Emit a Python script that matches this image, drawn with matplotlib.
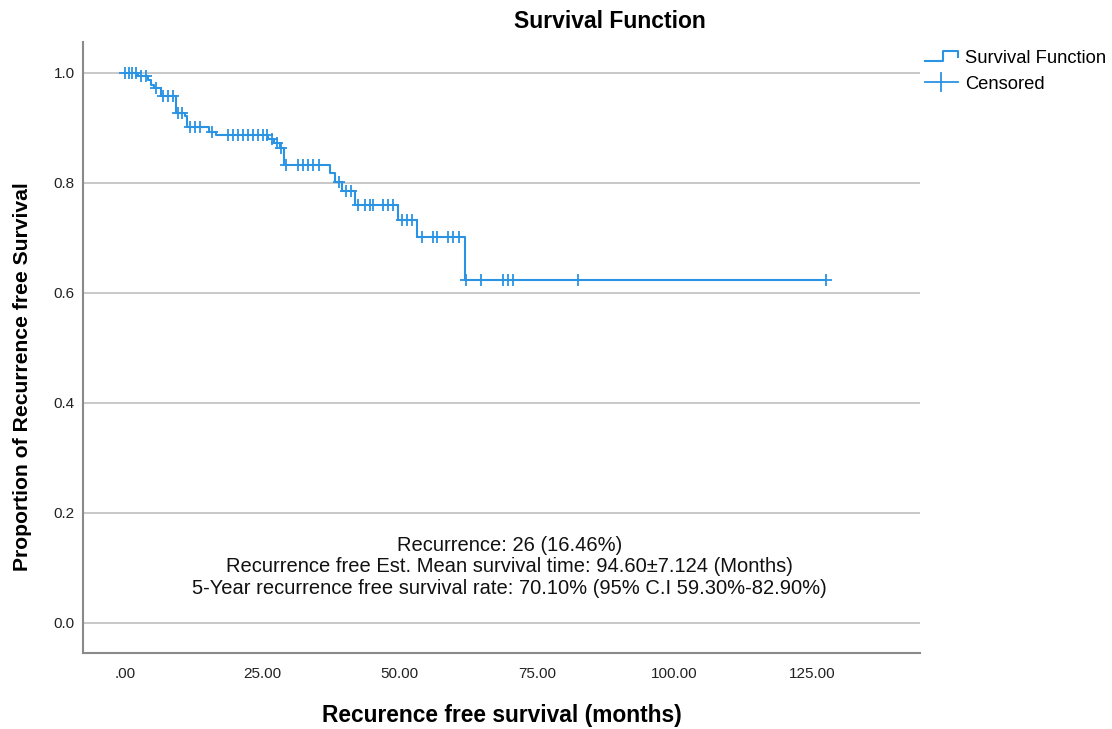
import matplotlib
matplotlib.use("Agg")
import matplotlib.pyplot as plt
from matplotlib.lines import Line2D
from matplotlib.legend_handler import HandlerBase

plt.rcParams['font.family'] = ['Liberation Sans', 'DejaVu Sans']

# Kaplan-Meier steps (months, survival after the drop)
event_times = [2.5, 4.2, 4.7, 5.3, 6.6, 9.3, 10.9, 11.3, 15.4, 16.6,
               26.0, 27.2, 28.2, 29.0, 37.3, 38.2, 39.5, 41.9, 49.7, 53.1, 61.9]
event_surv = [0.994, 0.987, 0.978, 0.972, 0.957, 0.927, 0.921, 0.902, 0.893, 0.886,
              0.880, 0.873, 0.864, 0.833, 0.818, 0.802, 0.785, 0.760, 0.733, 0.702, 0.624]

# censored cases
cens_times = [0.0, 0.7, 1.4, 2.1, 2.9, 3.9, 5.7, 6.9, 7.8, 8.7, 9.6, 10.4,
              11.8, 12.7, 13.6, 15.8,
              18.7, 19.7, 20.6, 21.5, 22.4, 23.3, 24.2, 25.1, 25.8,
              26.7, 27.7, 28.4,
              29.4, 31.5, 32.4, 33.3, 34.2, 35.3,
              38.9, 40.2, 41.1,
              42.4, 43.7, 44.6, 45.1, 46.9, 47.9, 48.8,
              50.4, 51.3, 52.2,
              54.0, 56.0, 56.8, 58.8, 59.7, 60.8,
              62.0, 64.8, 68.8, 69.7, 70.6, 82.4, 127.5]
cens_surv = [1.0, 1.0, 1.0, 1.0, 0.994, 0.994, 0.972, 0.957, 0.957, 0.957, 0.927, 0.927,
             0.902, 0.902, 0.902, 0.893,
             0.886, 0.886, 0.886, 0.886, 0.886, 0.886, 0.886, 0.886, 0.886,
             0.880, 0.873, 0.864,
             0.833, 0.833, 0.833, 0.833, 0.833, 0.833,
             0.802, 0.785, 0.785,
             0.760, 0.760, 0.760, 0.760, 0.760, 0.760, 0.760,
             0.733, 0.733, 0.733,
             0.702, 0.702, 0.702, 0.702, 0.702, 0.702,
             0.624, 0.624, 0.624, 0.624, 0.624, 0.624, 0.624]

notes = ["Recurrence: 26 (16.46%)",
         "Recurrence free Est. Mean survival time: 94.60\u00b17.124 (Months)",
         "5-Year recurrence free survival rate: 70.10% (95% C.I 59.30%-82.90%)"]

blue = '#2b93e3'


class StepHandler(HandlerBase):
    # legend handle drawn as a little step
    def create_artists(self, legend, orig_handle, xdescent, ydescent,
                       width, height, fontsize, trans):
        x0 = -xdescent
        xs = [x0, x0 + width * 0.55, x0 + width * 0.55, x0 + width, x0 + width]
        lo = -ydescent + height * 0.1
        hi = -ydescent + height * 0.9
        ys = [lo, lo, hi, hi, -ydescent + height * 0.45]
        ln = Line2D(xs, ys, color=orig_handle.get_color(), lw=orig_handle.get_linewidth())
        ln.set_transform(trans)
        return [ln]


class CrossHandler(HandlerBase):
    # legend handle drawn as a wide plus sign
    def create_artists(self, legend, orig_handle, xdescent, ydescent,
                       width, height, fontsize, trans):
        x0 = -xdescent
        ymid = -ydescent + height * 0.5
        h = Line2D([x0, x0 + width], [ymid, ymid], color=orig_handle.get_color(), lw=1.3)
        v = Line2D([x0 + width * 0.5, x0 + width * 0.5],
                   [ymid - height * 0.7, ymid + height * 0.7],
                   color=orig_handle.get_color(), lw=1.3)
        h.set_transform(trans)
        v.set_transform(trans)
        return [h, v]


fig = plt.figure(figsize=(11.12, 7.29), dpi=100)
ax = fig.add_axes([0.0746, 0.1043, 0.7527, 0.8381])

# survival curve
xs = [0.0] + event_times + [cens_times[-1]]
ys = [1.0] + event_surv + [event_surv[-1]]
surv_line, = ax.step(xs, ys, where='post', color=blue, lw=1.5, zorder=3)
cens_line, = ax.plot(cens_times, cens_surv, ls='none', marker='+', ms=8,
                     mew=1.3, color=blue, zorder=4)

ax.set_xlim(-7.6, 144.6)
ax.set_ylim(-0.055, 1.056)
ax.set_xticks([0, 25, 50, 75, 100, 125])
ax.set_xticklabels(['.00', '25.00', '50.00', '75.00', '100.00', '125.00'])
ax.set_yticks([0.0, 0.2, 0.4, 0.6, 0.8, 1.0])
ax.set_yticklabels(['0.0', '0.2', '0.4', '0.6', '0.8', '1.0'])
ax.tick_params(axis='both', length=0, labelsize=11, colors='#222222')
ax.tick_params(axis='x', pad=10)
ax.tick_params(axis='y', pad=6)
ax.grid(True, axis='y', color='#c4c4c4', lw=1.3, zorder=1)

for side in ['top', 'right']:
    ax.spines[side].set_visible(False)
for side in ['left', 'bottom']:
    ax.spines[side].set_color('#8a8a8a')
    ax.spines[side].set_linewidth(1.5)

fig.text(0.4515, 0.0185, "Recurence free survival (months)", fontsize=16.4,
         fontweight='bold', ha='center', va='center')
fig.text(0.0198, 0.484, "Proportion of Recurrence free Survival", fontsize=15.2,
         fontweight='bold', ha='center', va='center', rotation=90)
fig.text(0.5486, 0.970, "Survival Function", fontsize=16.5, fontweight='bold',
         ha='center', va='center')

ax.text(70.0, 0.102, "\n".join(notes), fontsize=14.5, ha='center', va='center',
        linespacing=1.17, color='#111111')

fig.legend([surv_line, cens_line], ["Survival Function", "Censored"],
           handler_map={surv_line: StepHandler(), cens_line: CrossHandler()},
           loc='upper left', bbox_to_anchor=(0.8315, 0.932), frameon=False,
           fontsize=13.2, handlelength=1.8, handletextpad=0.4, labelspacing=0.5,
           borderaxespad=0, borderpad=0)

plt.savefig("out.png", dpi=100)
plt.close()
